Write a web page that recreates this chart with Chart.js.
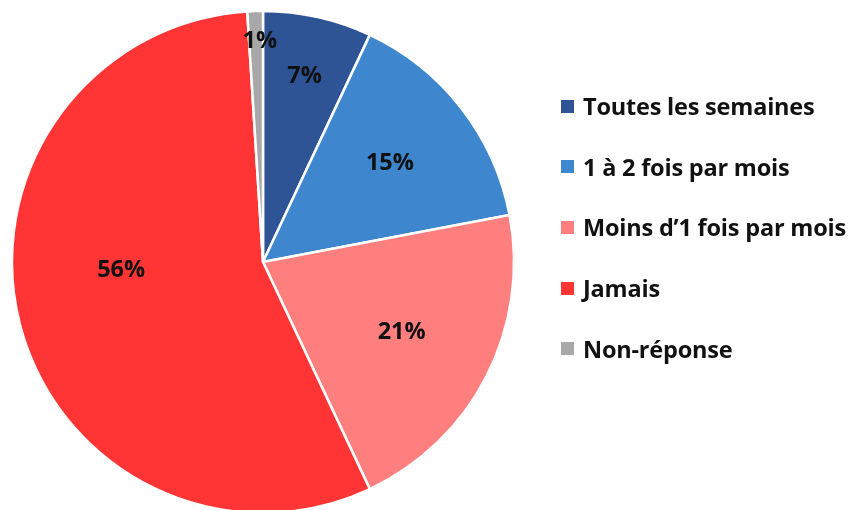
<!DOCTYPE html>
<html>
<head>
<meta charset="utf-8">
<script src="https://cdn.jsdelivr.net/npm/chart.js@4"></script>
<style>
  html, body { margin: 0; padding: 0; background: #fff; }
  #wrap { position: relative; width: 858px; height: 510px; overflow: hidden; }
  #legend { position: absolute; left: 561px; top: 91px; font-family: "Open Sans", sans-serif; font-weight: bold; font-size: 23.5px; letter-spacing: -0.2px; color: #111; }
  .item { display: flex; align-items: center; height: 30px; margin-bottom: 30.7px; white-space: nowrap; }
  .box { width: 13px; height: 13px; margin-right: 9px; }
</style>
</head>
<body>
<div id="wrap">
  <canvas id="myChart" width="858" height="510"></canvas>
  <div id="legend"></div>
</div>
<script>
// categories and shares (%)
const categories = ['Toutes les semaines', '1 à 2 fois par mois', 'Moins d\u20191 fois par mois', 'Jamais', 'Non-réponse'];
const shares = [7, 15, 21, 56, 1];
const colors = ['#2E5496', '#3E86CE', '#FF7F7F', '#FF3535', '#A8A8A8'];

// label placement: distance from centre (share of radius) and angle nudge (deg)
const labelDist = [0.76, 0.64, 0.62, 0.566, 0.88];
const labelTurn = [0, 0, 0, 11, 1];

// draw the % labels inside the slices
const sliceLabels = {
  id: 'sliceLabels',
  afterDatasetsDraw(chart) {
    const ctx = chart.ctx;
    const meta = chart.getDatasetMeta(0);
    ctx.save();
    ctx.font = 'bold 23.5px "Open Sans", sans-serif';
    ctx.fillStyle = '#111';
    ctx.textAlign = 'center';
    ctx.textBaseline = 'middle';
    meta.data.forEach((arc, i) => {
      const mid = (arc.startAngle + arc.endAngle) / 2 + labelTurn[i] * Math.PI / 180;
      const r = arc.outerRadius * labelDist[i];
      ctx.fillText(shares[i] + '%', arc.x + Math.cos(mid) * r, arc.y + Math.sin(mid) * r);
    });
    ctx.restore();
  }
};

const elem = document.getElementById('myChart').getContext('2d');
new Chart(elem, {
  type: 'pie',
  data: {
    labels: categories,
    datasets: [{
      data: shares,
      backgroundColor: colors,
      borderColor: '#fff',
      borderWidth: 2.5,
      radius: 251,
      clip: false
    }]
  },
  options: {
    responsive: false,
    animation: false,
    layout: { padding: { left: 0, right: 332, top: 14, bottom: 0 } },
    plugins: {
      legend: { display: false },
      tooltip: { enabled: false }
    }
  },
  plugins: [sliceLabels]
});

// legend on the right
const legend = document.getElementById('legend');
categories.forEach((name, i) => {
  const row = document.createElement('div');
  row.className = 'item';
  row.innerHTML = '<span class="box" style="background:' + colors[i] + '"></span><span>' + name + '</span>';
  legend.appendChild(row);
});
</script>
</body>
</html>
